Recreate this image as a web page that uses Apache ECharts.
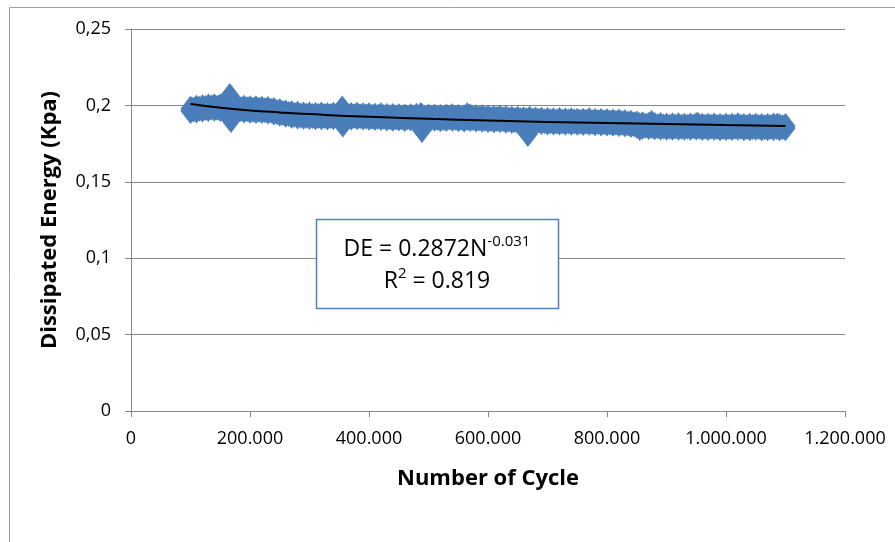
<!DOCTYPE html>
<html>
<head>
<meta charset="utf-8">
<script src="https://cdn.jsdelivr.net/npm/echarts@6/dist/echarts.min.js"></script>
<style>html,body{margin:0;padding:0;background:#fff;}#c{width:895px;height:542px;}</style>
</head>
<body>
<div id="c"></div>
<script>
// ---- data ----
const cycles = [100000,110000,120000,130000,140000,150000,160000,170000,180000,190000,
 200000,210000,220000,230000,240000,250000,260000,270000,280000,290000,
 300000,310000,320000,330000,340000,350000,360000,370000,380000,390000,
 400000,410000,420000,430000,440000,450000,460000,470000,480000,490000,
 500000,510000,520000,530000,540000,550000,560000,570000,580000,590000,
 600000,610000,620000,630000,640000,650000,660000,670000,680000,690000,
 700000,710000,720000,730000,740000,750000,760000,770000,780000,790000,
 800000,810000,820000,830000,840000,850000,860000,870000,880000,890000,
 900000,910000,920000,930000,940000,950000,960000,970000,980000,990000,
 1000000,1010000,1020000,1030000,1040000,1050000,1060000,1070000,1080000,1090000,1100000];
const energyUpper = [0.1978,0.1984,0.1988,0.1993,0.1994,0.1995,0.1991,0.1989,0.1985,0.1984,
 0.1981,0.1982,0.1978,0.1977,0.1970,0.1962,0.1953,0.1948,0.1945,0.1940,
 0.1941,0.1937,0.1940,0.1936,0.1938,0.1943,0.1938,0.1937,0.1939,0.1935,
 0.1936,0.1932,0.1935,0.1930,0.1930,0.1929,0.1928,0.1929,0.1932,0.1926,
 0.1927,0.1928,0.1924,0.1928,0.1929,0.1926,0.1923,0.1927,0.1922,0.1922,
 0.1920,0.1918,0.1919,0.1916,0.1913,0.1912,0.1909,0.1912,0.1907,0.1906,
 0.1904,0.1902,0.1905,0.1901,0.1903,0.1900,0.1900,0.1902,0.1898,0.1898,
 0.1897,0.1894,0.1895,0.1890,0.1887,0.1881,0.1877,0.1874,0.1872,0.1871,
 0.1869,0.1869,0.1870,0.1867,0.1869,0.1871,0.1867,0.1867,0.1868,0.1866,
 0.1867,0.1867,0.1870,0.1865,0.1867,0.1867,0.1865,0.1865,0.1868,0.1864,0.1865];
const energyLower = [0.1963,0.1967,0.1973,0.1976,0.1978,0.1977,0.1977,0.1972,0.1970,0.1966,
 0.1965,0.1964,0.1963,0.1960,0.1954,0.1946,0.1938,0.1933,0.1928,0.1925,
 0.1924,0.1922,0.1922,0.1921,0.1922,0.1926,0.1922,0.1921,0.1923,0.1920,
 0.1919,0.1917,0.1918,0.1914,0.1913,0.1914,0.1911,0.1914,0.1915,0.1911,
 0.1910,0.1912,0.1909,0.1911,0.1913,0.1910,0.1908,0.1911,0.1907,0.1906,
 0.1904,0.1902,0.1904,0.1900,0.1898,0.1897,0.1894,0.1896,0.1892,0.1891,
 0.1888,0.1888,0.1888,0.1887,0.1887,0.1886,0.1884,0.1887,0.1883,0.1882,
 0.1881,0.1880,0.1878,0.1876,0.1871,0.1867,0.1861,0.1859,0.1857,0.1856,
 0.1854,0.1854,0.1854,0.1853,0.1853,0.1856,0.1852,0.1852,0.1853,0.1851,
 0.1852,0.1852,0.1854,0.1851,0.1851,0.1853,0.1849,0.1851,0.1852,0.1850,0.1851];
const midCycles = [105000,115000,125000,135000,145000,155000,165000,175000,185000,195000,
 205000,215000,225000,235000,245000,255000,265000,275000,285000,295000,
 305000,315000,325000,335000,345000,355000,365000,375000,385000,395000,
 405000,415000,425000,435000,445000,455000,465000,475000,485000,495000,
 505000,515000,525000,535000,545000,555000,565000,575000,585000,595000,
 605000,615000,625000,635000,645000,655000,665000,675000,685000,695000,
 705000,715000,725000,735000,745000,755000,765000,775000,785000,795000,
 805000,815000,825000,835000,845000,855000,865000,875000,885000,895000,
 905000,915000,925000,935000,945000,955000,965000,975000,985000,995000,
 1005000,1015000,1025000,1035000,1045000,1055000,1065000,1075000,1085000,1095000];
const energyMid = [0.1973,0.1978,0.1983,0.1986,0.1985,0.1986,0.1981,0.1978,0.1976,0.1974,
 0.1972,0.1972,0.1969,0.1965,0.1957,0.1950,0.1943,0.1938,0.1934,0.1932,
 0.1931,0.1931,0.1930,0.1930,0.1932,0.1932,0.1930,0.1930,0.1929,0.1928,
 0.1926,0.1926,0.1924,0.1922,0.1921,0.1921,0.1921,0.1922,0.1921,0.1918,
 0.1919,0.1918,0.1918,0.1920,0.1919,0.1917,0.1917,0.1916,0.1915,0.1913,
 0.1911,0.1911,0.1909,0.1907,0.1905,0.1903,0.1902,0.1901,0.1899,0.1897,
 0.1896,0.1895,0.1895,0.1894,0.1894,0.1893,0.1893,0.1892,0.1891,0.1889,
 0.1888,0.1887,0.1884,0.1881,0.1876,0.1871,0.1867,0.1865,0.1864,0.1862,
 0.1861,0.1862,0.1861,0.1860,0.1862,0.1861,0.1860,0.1860,0.1859,0.1859,
 0.1859,0.1860,0.1860,0.1858,0.1859,0.1858,0.1857,0.1859,0.1858,0.1857];
const outlierCycles = [166000,168000,355000,356000,487000,489000,565000,667000,855000,875000,953000,1086000];
const outlierEnergy = [0.2062,0.1904,0.1980,0.1875,0.1937,0.1839,0.1935,0.1813,0.1852,0.1885,0.1872,0.1867];
const trendCycles = [100000,125000,150000,200000,250000,300000,400000,500000,600000,700000,800000,900000,1000000,1100000];
const trendEnergy = [0.2010,0.1996,0.1985,0.1967,0.1954,0.1943,0.1925,0.1912,0.1901,0.1892,0.1884,0.1878,0.1871,0.1866];
const xTickLabels = ['0','200.000','400.000','600.000','800.000','1.000.000','1.200.000'];
const yTickLabels = ['0','0,05','0,1','0,15','0,2','0,25'];
const xTitle = 'Number of Cycle';
const yTitle = 'Dissipated Energy (Kpa)';
const eqLine1 = ['DE = 0.2872N', '-0.031'];
const eqLine2 = ['R', '2', ' = 0.819'];

// ---- build ----
const scatterData = [];
cycles.forEach((c, i) => { scatterData.push([c, energyUpper[i]]); scatterData.push([c, energyLower[i]]); });
midCycles.forEach((c, i) => scatterData.push([c, energyMid[i]]));
outlierCycles.forEach((c, i) => scatterData.push([c, outlierEnergy[i]]));
const trendData = trendCycles.map((c, i) => [c, trendEnergy[i]]);

const FONT = '"Open Sans", "Noto Sans", sans-serif';
const chart = echarts.init(document.getElementById('c'), null, {renderer: 'canvas'});
chart.setOption({
  animation: false,
  backgroundColor: '#fff',
  grid: {left: 131, right: 50, top: 29, bottom: 131, containLabel: false},
  xAxis: {
    type: 'value', min: 0, max: 1200000, interval: 200000,
    name: xTitle, nameLocation: 'middle', nameGap: 57,
    nameTextStyle: {fontFamily: FONT, fontSize: 22, fontWeight: 'bold', color: '#000'},
    axisLine: {show: true, lineStyle: {color: '#878787', width: 1}},
    axisTick: {show: true, length: 6, lineStyle: {color: '#878787'}},
    axisLabel: {margin: 19, fontFamily: FONT, fontSize: 18, color: '#000',
      formatter: v => xTickLabels[Math.round(v / 200000)]},
    splitLine: {show: false}
  },
  yAxis: {
    type: 'value', min: 0, max: 0.25, interval: 0.05,
    name: yTitle, nameLocation: 'middle', nameGap: 70, nameRotate: 90,
    nameTextStyle: {fontFamily: FONT, fontSize: 22, fontWeight: 'bold', color: '#000'},
    axisLine: {show: true, lineStyle: {color: '#878787', width: 1}},
    axisTick: {show: true, length: 6, lineStyle: {color: '#878787'}},
    axisLabel: {margin: 20, fontFamily: FONT, fontSize: 18, color: '#000',
      formatter: v => yTickLabels[Math.round(v / 0.05)]},
    splitLine: {show: true, lineStyle: {color: '#878787', width: 1}}
  },
  series: [
    {type: 'scatter', data: scatterData, symbol: 'diamond', symbolSize: [20, 26],
     itemStyle: {color: '#4a7ebb', opacity: 1}, z: 2},
    {type: 'line', data: trendData, smooth: true, showSymbol: false, symbol: 'none',
     lineStyle: {color: '#000', width: 2}, z: 3}
  ],
  graphic: [
    {type: 'rect', left: 7, top: 5, z: -10, silent: true,
     shape: {x: 0, y: 0, width: 1000, height: 1000},
     style: {fill: 'none', stroke: '#a0a0a0', lineWidth: 1}},
    {type: 'rect', z: 100, silent: true,
     shape: {x: 316.5, y: 219.5, width: 242, height: 89},
     style: {fill: '#fff', stroke: '#4f81bd', lineWidth: 1.5}},
    {type: 'text', z: 101, silent: true, x: 437, y: 249,
     style: {text: '{m|' + eqLine1[0] + '}{s|' + eqLine1[1] + '}', align: 'center', verticalAlign: 'middle',
       rich: {m: {fontFamily: FONT, fontSize: 23, lineHeight: 30, color: '#000'},
              s: {fontFamily: FONT, fontSize: 15, lineHeight: 20, verticalAlign: 'top', color: '#000'}}}},
    {type: 'text', z: 101, silent: true, x: 437, y: 281,
     style: {text: '{m|' + eqLine2[0] + '}{s|' + eqLine2[1] + '}{m|' + eqLine2[2] + '}', align: 'center', verticalAlign: 'middle',
       rich: {m: {fontFamily: FONT, fontSize: 23, lineHeight: 30, color: '#000'},
              s: {fontFamily: FONT, fontSize: 15, lineHeight: 20, verticalAlign: 'top', color: '#000'}}}}
  ]
});
</script>
</body>
</html>
